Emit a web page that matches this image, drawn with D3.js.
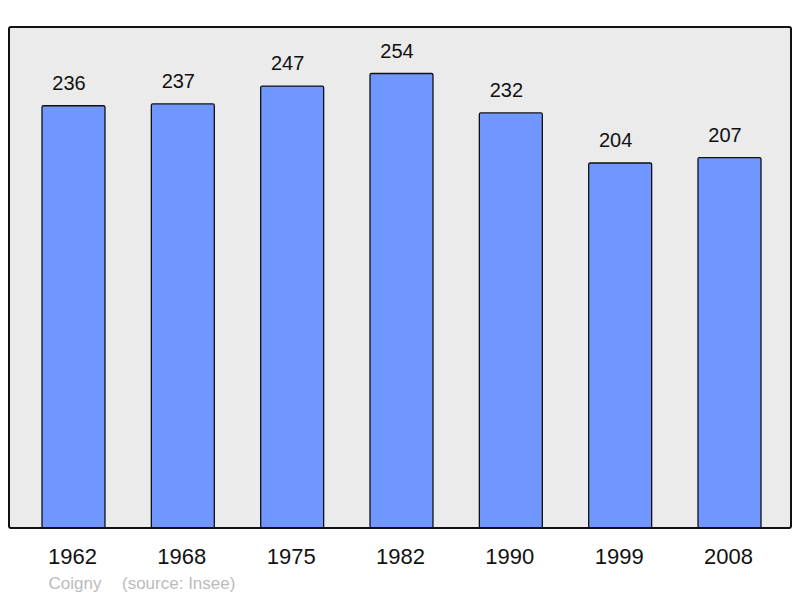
<!DOCTYPE html>
<html>
<head>
<meta charset="utf-8">
<script src="https://cdn.jsdelivr.net/npm/d3@7"></script>
<style>
  body { margin: 0; background: #fff; }
  svg { display: block; font-family: "Liberation Sans", Arial, sans-serif; }
</style>
</head>
<body>
<svg id="chart" width="800" height="598"></svg>
<script>
var years = ["1962", "1968", "1975", "1982", "1990", "1999", "2008"];
var population = [236, 237, 247, 254, 232, 204, 207];
var commune = "Coigny";
var source = "(source: Insee)";

var svg = d3.select("#chart");
var plotLeft = 9, plotRight = 791, plotTop = 27, plotBottom = 528;

var x = d3.scaleBand()
  .domain(years)
  .range([9.2, 793.8])
  .paddingInner(0.424)
  .paddingOuter(0.3);

var y = d3.scaleLinear()
  .domain([0, 280])
  .range([plotBottom, plotTop]);

// plot area
svg.append("rect")
  .attr("x", plotLeft)
  .attr("y", plotTop)
  .attr("width", plotRight - plotLeft)
  .attr("height", plotBottom - plotTop)
  .attr("rx", 2)
  .attr("fill", "#ebebeb")
  .attr("stroke", "none");

// bars
svg.selectAll("rect.bar").data(years)
  .enter()
  .append("rect")
  .attr("class", "bar")
  .attr("x", function(d) { return x(d); })
  .attr("y", function(d, i) { return y(population[i]); })
  .attr("width", x.bandwidth())
  .attr("height", function(d, i) { return y(0) - y(population[i]); })
  .attr("rx", 1.5)
  .attr("fill", "#7097ff")
  .attr("stroke", "#111")
  .attr("stroke-width", 1.3);

// value labels (sit a little left of bar centre, as in the original)
svg.selectAll("text.val").data(years)
  .enter()
  .append("text")
  .attr("class", "val")
  .attr("x", function(d) { return x(d) + x.bandwidth() / 2 - 4.5; })
  .attr("y", function(d, i) { return y(population[i]) - 16; })
  .attr("text-anchor", "middle")
  .attr("font-size", 20)
  .attr("fill", "#111")
  .text(function(d, i) { return population[i]; });

// frame on top
svg.append("rect")
  .attr("x", plotLeft)
  .attr("y", plotTop)
  .attr("width", plotRight - plotLeft)
  .attr("height", plotBottom - plotTop)
  .attr("rx", 2)
  .attr("fill", "none")
  .attr("stroke", "#111")
  .attr("stroke-width", 2);

// year axis
var xAxis = d3.axisBottom(x).tickSize(0).tickPadding(0);
var gx = svg.append("g")
  .attr("transform", "translate(-1," + (plotBottom + 36) + ")")
  .call(xAxis);
gx.select(".domain").remove();
gx.selectAll("text")
  .attr("dy", 0)
  .attr("font-size", 22)
  .attr("font-family", "Liberation Sans, Arial, sans-serif")
  .attr("fill", "#111");

// source line
svg.append("text")
  .attr("x", 75)
  .attr("y", 589)
  .attr("text-anchor", "middle")
  .attr("font-size", 17)
  .attr("fill", "#bbb")
  .text(commune);
svg.append("text")
  .attr("x", 122)
  .attr("y", 589)
  .attr("font-size", 17)
  .attr("fill", "#bbb")
  .text(source);
</script>
</body>
</html>
